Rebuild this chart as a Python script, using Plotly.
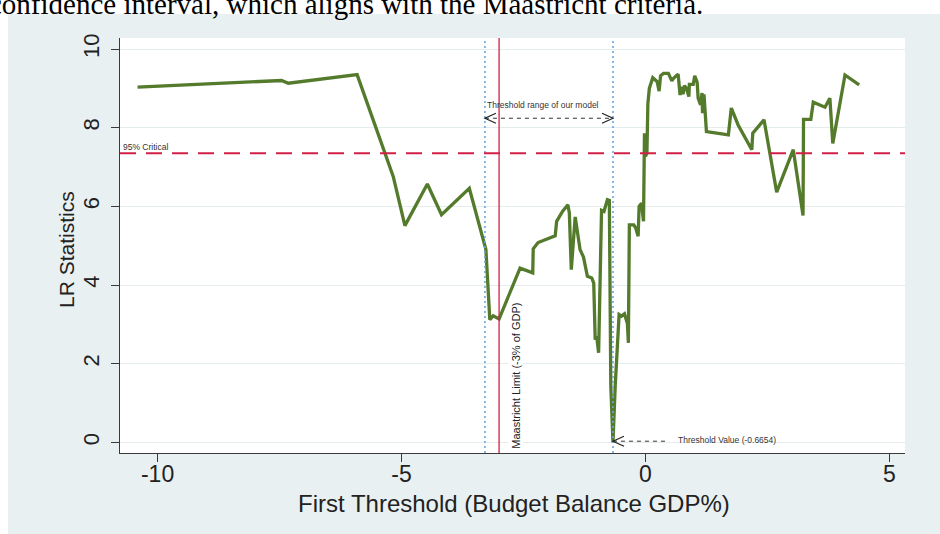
import plotly.graph_objects as go

# ---------------- data ----------------
threshold = [-10.41, -7.56, -7.46, -7.32, -5.91, -5.17, -4.93, -4.47, -4.18, -3.61,
             -3.27, -3.19, -3.12, -3.00, -2.57, -2.31, -2.30, -2.20, -1.85, -1.82,
             -1.70, -1.59, -1.56, -1.52, -1.44, -1.34, -1.27, -1.19, -1.10, -1.06,
             -1.03, -1.00, -0.96, -0.90, -0.85, -0.78, -0.74, -0.71, -0.69, -0.6654,
             -0.62, -0.56, -0.54, -0.49, -0.43, -0.37, -0.35, -0.33, -0.24, -0.20,
             -0.15, -0.13, -0.08, -0.04, -0.02, 0.00, 0.03, 0.05, 0.08, 0.15,
             0.24, 0.28, 0.31, 0.37, 0.47, 0.54, 0.58, 0.65, 0.67, 0.71,
             0.74, 0.77, 0.80, 0.84, 0.89, 0.90, 0.98, 1.01, 1.06, 1.08,
             1.13, 1.16, 1.17, 1.20, 1.25, 1.70, 1.76, 1.90, 2.18, 2.20,
             2.43, 2.69, 3.03, 3.23, 3.24, 3.39, 3.44, 3.68, 3.78, 3.84,
             4.09, 4.38]
lr_stat = [9.03, 9.18, 9.20, 9.13, 9.35, 6.76, 5.51, 6.57, 5.79, 6.46,
           4.90, 3.12, 3.22, 3.14, 4.43, 4.31, 4.92, 5.08, 5.25, 5.62,
           5.87, 6.04, 5.83, 4.39, 5.73, 4.90, 4.71, 4.22, 4.18, 4.05,
           2.61, 2.70, 2.28, 5.90, 5.87, 6.17, 6.15, 1.43, 0.50, 0.00,
           1.43, 3.08, 3.25, 3.21, 3.27, 3.02, 2.53, 5.53, 5.53, 5.45,
           5.24, 6.00, 6.08, 5.62, 7.86, 7.27, 7.35, 8.62, 9.00, 9.27,
           9.17, 8.93, 9.32, 9.38, 9.38, 9.19, 9.26, 9.34, 9.36, 8.83,
           9.04, 8.85, 9.07, 9.00, 8.79, 9.10, 9.10, 9.32, 9.15, 8.75,
           8.58, 8.88, 8.37, 8.85, 7.90, 7.82, 8.50, 8.07, 7.44, 7.86,
           8.20, 6.36, 7.44, 5.77, 8.21, 8.21, 8.65, 8.52, 8.75, 7.60,
           9.34, 9.09]

x_ticks = [-10, -5, 0, 5]
x_tick_labels = ["-10", "-5", "0", "5"]
y_ticks = [0, 2, 4, 6, 8, 10]
y_tick_labels = ["0", "2", "4", "6", "8", "10"]

critical_95 = 7.35
maastricht_limit = -3.0
threshold_value = -0.6654
range_lower = -3.29
range_arrow_y = 8.24
range_label_y = 8.58

# ---------------- layout constants ----------------
W, H = 940, 534
ML, MR, MT, MB = 120, 35, 38, 81
XR = [-10.77, 5.32]
YR = [-0.27, 10.28]
PW, PH = W - ML - MR, H - MT - MB
px_x = PW / (XR[1] - XR[0])
px_y = PH / (YR[1] - YR[0])


def paper_x(px):
    return (px - ML) / PW


def paper_y(py):
    return (MT + PH - py) / PH


GREEN = "#547a2c"
RED = "#d21f45"
BLUE = "#6aa6e0"
BG = "#e9f0f2"
GRID = "#e4ecee"
AXIS = "#3a3a3a"
FONT = "Liberation Sans, Arial, sans-serif"

fig = go.Figure()
fig.add_trace(go.Scatter(x=threshold, y=lr_stat, mode="lines",
                         line=dict(color=GREEN, width=3.3), showlegend=False,
                         hoverinfo="x+y"))

shapes = []
# white strips outside the grey graph region
shapes.append(dict(type="rect", xref="paper", yref="paper",
                   x0=paper_x(0), x1=paper_x(8), y0=paper_y(H), y1=paper_y(0),
                   fillcolor="white", line=dict(width=0), layer="below"))
shapes.append(dict(type="rect", xref="paper", yref="paper",
                   x0=paper_x(0), x1=paper_x(W), y0=paper_y(14), y1=paper_y(0),
                   fillcolor="white", line=dict(width=0), layer="below"))

# vertical reference lines
for xv, col, dash, wd in [(range_lower, BLUE, "2px,3px", 1.6),
                          (threshold_value, BLUE, "2px,3px", 1.6),
                          (maastricht_limit, RED, "solid", 1.3)]:
    shapes.append(dict(type="line", xref="x", yref="paper", x0=xv, x1=xv, y0=0, y1=1,
                       line=dict(color=col, width=wd, dash=dash)))
# 95% critical horizontal dashed line
shapes.append(dict(type="line", xref="paper", yref="y", x0=0, x1=1,
                   y0=critical_95, y1=critical_95,
                   line=dict(color=RED, width=2, dash="16px,10px")))

# dashed arrow shafts
shapes.append(dict(type="line", xref="x", yref="y", x0=range_lower, x1=threshold_value,
                   y0=range_arrow_y, y1=range_arrow_y,
                   line=dict(color="#333333", width=1, dash="4px,4px")))
shapes.append(dict(type="line", xref="x", yref="y", x0=threshold_value, x1=0.46,
                   y0=0.03, y1=0.03,
                   line=dict(color="#333333", width=1, dash="4px,4px")))


def chevron(xt, yt, direction, w=11, h=5):
    dx = direction * w / px_x
    dy = h / px_y
    return dict(type="path", xref="x", yref="y",
                path=f"M {xt + dx},{yt + dy} L {xt},{yt} L {xt + dx},{yt - dy}",
                line=dict(color="#222222", width=1.2))


shapes.append(chevron(range_lower, range_arrow_y, +1))
shapes.append(chevron(threshold_value, range_arrow_y, -1))
shapes.append(chevron(threshold_value, 0.03, +1))

annotations = [
    dict(text="95% Critical", x=XR[0] + 2 / px_x, y=critical_95, xref="x", yref="y",
         xanchor="left", yanchor="bottom", showarrow=False, borderpad=0,
         font=dict(family=FONT, size=8.5, color="#333333")),
    dict(text="Threshold range of our model", x=range_lower, y=range_label_y,
         xref="x", yref="y", xanchor="left", yanchor="middle", showarrow=False,
         font=dict(family=FONT, size=8.5, color="#333333")),
    dict(text="Threshold Value (-0.6654)", x=0.625, y=0.05, xref="x", yref="y",
         xanchor="left", yanchor="middle", showarrow=False,
         font=dict(family=FONT, size=8.5, color="#333333")),
    dict(text="Maastricht Limit (-3% of GDP)", x=-2.67, y=1.70, xref="x", yref="y",
         textangle=-90, xanchor="center", yanchor="middle", showarrow=False,
         bgcolor="white", font=dict(family=FONT, size=11, color="#222222")),
    # axis titles
    dict(text="First Threshold (Budget Balance GDP%)", x=paper_x(514), y=paper_y(503),
         xref="paper", yref="paper", xanchor="center", yanchor="middle",
         showarrow=False, borderpad=0, font=dict(family=FONT, size=24, color="#222222")),
    dict(text="LR Statistics", x=paper_x(66), y=paper_y(250),
         xref="paper", yref="paper", xanchor="center", yanchor="middle",
         textangle=-90, showarrow=False,
         font=dict(family=FONT, size=21, color="#222222")),
    # caption fragment of the surrounding document (cut off at the top)
    dict(text="confidence interval, which aligns with the Maastricht criteria.",
         x=paper_x(-12), y=paper_y(21), xref="paper", yref="paper",
         xanchor="left", yanchor="bottom", showarrow=False, borderpad=0,
         font=dict(family="Liberation Serif, Times New Roman, serif", size=29,
                   color="black")),
]

fig.update_layout(
    width=W, height=H,
    margin=dict(l=ML, r=MR, t=MT, b=MB, pad=0),
    paper_bgcolor=BG, plot_bgcolor="white",
    shapes=shapes, annotations=annotations,
    showlegend=False,
    xaxis=dict(range=XR, tickvals=x_ticks, ticktext=x_tick_labels,
               ticks="outside", ticklen=8, tickcolor=AXIS, tickwidth=1.2,
               showline=True, linecolor=AXIS, linewidth=1.3, showgrid=False,
               zeroline=False, tickfont=dict(family=FONT, size=23, color="#222222"),
               ticklabelstandoff=-8),
    yaxis=dict(range=YR, tickvals=y_ticks, ticktext=y_tick_labels, tickangle=-90,
               ticks="outside", ticklen=8, tickcolor=AXIS, tickwidth=1.2,
               showline=True, linecolor=AXIS, linewidth=1.3, showgrid=True,
               gridcolor=GRID, gridwidth=1, zeroline=False,
               tickfont=dict(family=FONT, size=22, color="#222222"),
               ticklabelstandoff=3),
)

fig.write_html("out.html")
